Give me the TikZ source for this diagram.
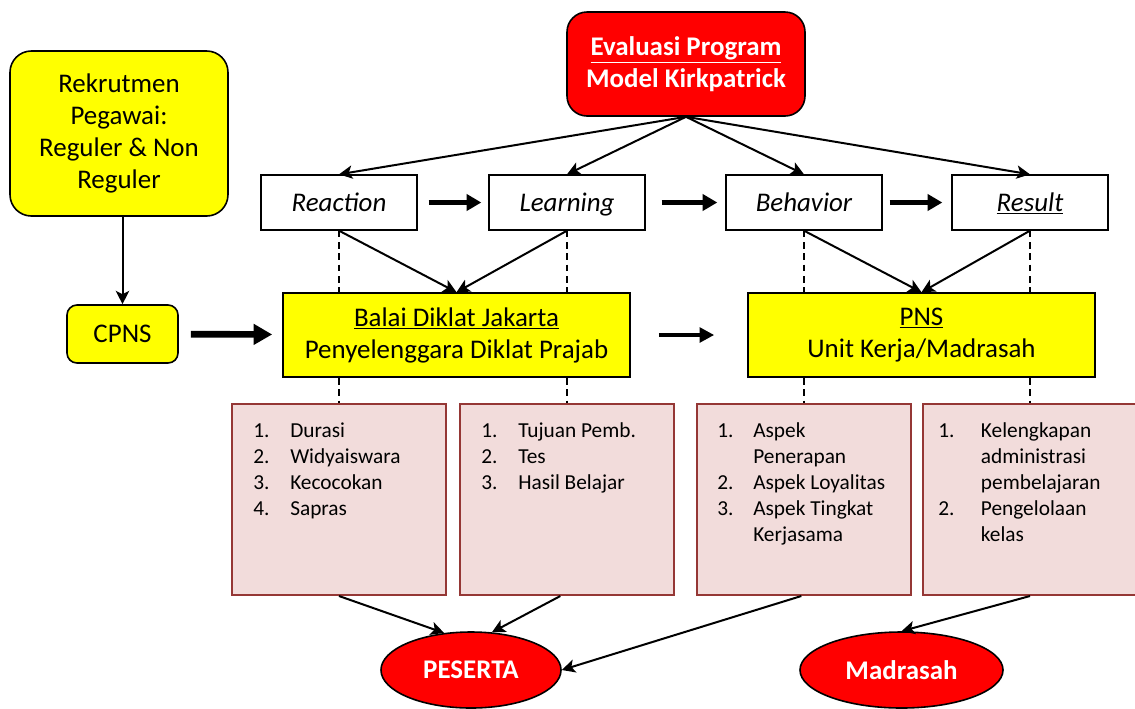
\documentclass[tikz,border=0pt]{standalone}
\usepackage{fontspec}
\setmainfont{Carlito}
\usepackage{tikz}
\usetikzlibrary{shapes.geometric, arrows.meta, positioning, backgrounds}
\definecolor{boxyellow}{RGB}{255, 255, 0}
\definecolor{boxred}{RGB}{255, 0, 0}
\definecolor{notepink}{RGB}{242, 220, 219}
\definecolor{notered}{RGB}{149, 55, 53}

\begin{document}
\begin{tikzpicture}[x=0.75pt, y=-0.75pt,
  font=\fontsize{20.2}{24}\selectfont,
  yellowbox/.style={draw, line width=1.2pt, fill=boxyellow, align=center, inner sep=0pt},
  redbox/.style={draw, line width=1.2pt, fill=boxred, text=white, align=center, inner sep=0pt,
    font=\fontsize{20.2}{24}\selectfont\bfseries},
  levelbox/.style={draw, line width=1pt, fill=white, minimum width=117pt, minimum height=41.25pt,
    inner sep=0pt, text height=13pt, text depth=0pt, font=\fontsize{20.2}{24}\selectfont\itshape},
  notebox/.style={draw=notered, line width=1.5pt, fill=notepink, minimum width=160.5pt,
    minimum height=143.25pt, inner sep=0pt},
  notetext/.style={anchor=north west, inner sep=0pt, font=\fontsize{16}{19.5}\selectfont},
  targetoval/.style={ellipse, draw, line width=1.2pt, fill=boxred, text=white, inner sep=0pt,
    minimum height=57pt, font=\fontsize{20.2}{24}\selectfont\bfseries},
  linkarrow/.style={line width=1.5pt, -{Stealth[length=10pt, width=10pt, inset=2.5pt]}},
  bigarrow/.style={line width=3.5pt, -{Triangle[length=11pt, width=12pt]}},
  guide/.style={line width=1pt, dash pattern=on 5pt off 3.5pt}]
  \useasboundingbox (0,0) rectangle (1135,708);

  % Recruitment and CPNS
  \node[yellowbox, rounded corners=16pt, minimum width=163.5pt, minimum height=123.75pt]
    (rekrut) at (119,133.5) {Rekrutmen\\Pegawai:\\Reguler \& Non\\Reguler};
  \node[yellowbox, rounded corners=7.5pt, minimum width=83.25pt, minimum height=43.5pt]
    (cpns) at (122.5,334) {CPNS};

  % Kirkpatrick model
  \node[redbox, rounded corners=15pt, minimum width=178.5pt, minimum height=78pt]
    (evaluasi) at (686,64) {\underline{Evaluasi Program}\\Model Kirkpatrick};
  \node[levelbox] (reaction) at (339,202.5) {Reaction};
  \node[levelbox] (learning) at (567,202.5) {Learning};
  \node[levelbox] (behavior) at (804,202.5) {Behavior};
  \node[levelbox] (result)   at (1030,202.5) {\underline{Result}};

  % Places of evaluation
  \node[yellowbox, minimum width=260.25pt, minimum height=63pt]
    (balai) at (456.5,335) {\underline{Balai Diklat Jakarta}\\Penyelenggara Diklat Prajab};
  \node[yellowbox, minimum width=260.25pt, minimum height=63pt]
    (pns) at (921.5,335) {\underline{PNS}\\Unit Kerja/Madrasah};

  % Criteria boxes
  \node[notebox] (noteA) at (339,499.5) {};
  \node[notebox] (noteB) at (567,499.5) {};
  \node[notebox] (noteC) at (804,499.5) {};
  \node[notebox] (noteD) at (1030,499.5) {};
  \node[notetext] (listA) at (253,419) {\begin{tabular}{@{}p{27.75pt}@{}l@{}}
    1. & Durasi\\ 2. & Widyaiswara\\ 3. & Kecocokan\\ 4. & Sapras\end{tabular}};
  \node[notetext] (listB) at (481,419) {\begin{tabular}{@{}p{27.75pt}@{}l@{}}
    1. & Tujuan Pemb.\\ 2. & Tes\\ 3. & Hasil Belajar\end{tabular}};
  \node[notetext] (listC) at (717,419) {\begin{tabular}{@{}p{27pt}@{}l@{}}
    1. & Aspek\\ & Penerapan\\ 2. & Aspek Loyalitas\\ 3. & Aspek Tingkat\\ & Kerjasama\end{tabular}};
  \node[notetext] (listD) at (938,419) {\begin{tabular}{@{}p{32pt}@{}l@{}}
    1. & Kelengkapan\\ & administrasi\\ & pembelajaran\\ 2. & Pengelolaan\\ & kelas\end{tabular}};

  % Targets
  \node[targetoval, minimum width=135pt] (peserta) at (471,670) {PESERTA};
  \node[targetoval, minimum width=152.25pt] (madrasah) at (901.5,670) {Madrasah};

  % Guide lines behind the boxes
  \begin{scope}[on background layer]
    \draw[guide] (reaction.south) -- (noteA.north);
    \draw[guide] (learning.south) -- (noteB.north);
    \draw[guide] (behavior.south) -- (noteC.north);
    \draw[guide] (result.south)   -- (noteD.north);
  \end{scope}

  % Connectors
  \draw[linkarrow] (cpns.north |- rekrut.south) -- (cpns.north);
  \draw[bigarrow, line width=5pt, -{Triangle[length=14pt, width=15pt]},
    shorten <=9pt, shorten >=7.5pt] (cpns) -- (balai);
  \foreach \lvl in {reaction, learning, behavior, result}
    \draw[linkarrow] (evaluasi.south) -- (\lvl.north);
  \draw[bigarrow, shorten <=8.25pt, shorten >=5.25pt] (reaction) -- (learning);
  \draw[bigarrow, shorten <=12pt, shorten >=6pt] (learning) -- (behavior);
  \draw[bigarrow, shorten <=5.25pt, shorten >=6.75pt] (behavior) -- (result);
  \draw[bigarrow, line width=3pt, -{Triangle[length=11pt, width=11pt]},
    shorten <=21pt, shorten >=24.75pt] (balai) -- (pns);
  \draw[linkarrow] (reaction.south) -- (balai.north);
  \draw[linkarrow] (learning.south) -- (balai.north);
  \draw[linkarrow] (behavior.south) -- (pns.north);
  \draw[linkarrow] (result.south)   -- (pns.north);
  \draw[linkarrow] (noteA.south) -- (peserta.126);
  \draw[linkarrow] ([xshift=-5pt]noteB.south) -- (peserta.61);
  \draw[linkarrow] ([xshift=-2pt]noteC.south) -- (peserta.east);
  \draw[linkarrow] (noteD.south) -- (madrasah.north);
\end{tikzpicture}
\end{document}
